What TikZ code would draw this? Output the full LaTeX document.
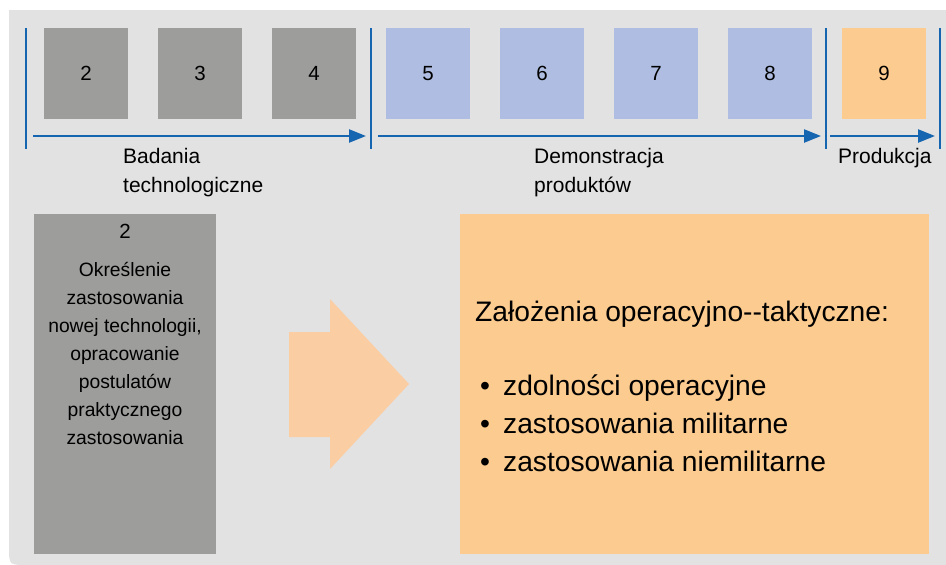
\documentclass[tikz,border=0pt]{standalone}
\usepackage{fontspec}
\setmainfont{Liberation Sans}
\usetikzlibrary{arrows.meta}

\definecolor{panelgray}{HTML}{E2E2E2}
\definecolor{stepgray}{HTML}{9D9D9C}
\definecolor{stepblue}{HTML}{AEBDE1}
\definecolor{steporange}{HTML}{FBCB8F}
\definecolor{arroworange}{HTML}{FBCDA3}
\definecolor{lineblue}{HTML}{1565B0}

\begin{document}
\begin{tikzpicture}[x=1pt, y=-1pt,
  stage/.style={inner sep=0pt, minimum width=84pt, minimum height=91pt,
    font=\fontsize{20.5}{22}\selectfont},
  divider/.style={lineblue, line width=2.6pt},
  phasearrow/.style={lineblue, line width=2.4pt,
    -{Triangle[length=17pt, width=13pt]}},
  phaselabel/.style={anchor=base west, inner sep=0pt, align=left,
    font=\fontsize{21}{29}\selectfont},
  bigbox/.style={inner sep=0pt, minimum height=340pt}
]
\useasboundingbox (0,0) rectangle (946,565);

% panel with one rounded corner
\fill[panelgray] (946,10) -- (9,10) -- (9,547) .. controls (9,565) .. (27,565)
  -- (946,565) -- cycle;

% stage squares
\node[stage, fill=stepgray]   (s2) at (86,73.5)  {2};
\node[stage, fill=stepgray]   (s3) at (200,73.5) {3};
\node[stage, fill=stepgray]   (s4) at (314,73.5) {4};
\node[stage, fill=stepblue]   (s5) at (428,73.5) {5};
\node[stage, fill=stepblue]   (s6) at (542,73.5) {6};
\node[stage, fill=stepblue]   (s7) at (656,73.5) {7};
\node[stage, fill=stepblue]   (s8) at (770,73.5) {8};
\node[stage, fill=steporange] (s9) at (884,73.5) {9};

% phase dividers
\draw[divider] (26,28) -- (26,149);
\draw[divider] (371,28) -- (371,149);
\draw[divider] (826,28) -- (826,149);
\draw[divider] (940,28) -- (940,149);

% phase arrows
\coordinate (a1s) at (33,136);  \coordinate (a1e) at (366,136);
\coordinate (a2s) at (378,136); \coordinate (a2e) at (821,136);
\coordinate (a3s) at (830,136); \coordinate (a3e) at (935,136);
\draw[phasearrow] (a1s) -- (a1e);
\draw[phasearrow] (a2s) -- (a2e);
\draw[phasearrow] (a3s) -- (a3e);

% phase names (base anchor sits on the last line)
\node[phaselabel] (l1) at (123,192) {Badania\\technologiczne};
\node[phaselabel] (l2) at (534,192) {Demonstracja\\produktów};
\node[phaselabel] (l3) at (838,163) {Produkcja};

% stage 2 detail
\node[bigbox, fill=stepgray, minimum width=182pt] (detail) at (125,384) {};
\node[anchor=base, inner sep=0pt, font=\fontsize{20.5}{22}\selectfont]
  (dnum) at (125,238) {2};
\node[anchor=base, inner sep=0pt, align=center,
  font=\fontsize{19.3}{28}\selectfont] (dtext) at (125,444)
  {Określenie\\zastosowania\\nowej technologii,\\opracowanie\\postulatów\\praktycznego\\zastosowania};

% block arrow
\fill[arroworange] (289,332) -- (330,332) -- (330,299) -- (409,384)
  -- (330,469) -- (330,437) -- (289,437) -- cycle;

% requirements box
\node[bigbox, fill=steporange, minimum width=469pt] (req) at (694.5,384) {};
\node[anchor=base west, inner sep=0pt, font=\fontsize{28.2}{38}\selectfont]
  (reqtitle) at (475,321) {Założenia operacyjno-{}-taktyczne:};
\node[anchor=base west, inner sep=0pt, align=left,
  font=\fontsize{28.2}{38}\selectfont] (reqlist) at (480,471)
  {\makebox[23pt][l]{•}zdolności operacyjne\\
   \makebox[23pt][l]{•}zastosowania militarne\\
   \makebox[23pt][l]{•}zastosowania niemilitarne};
\end{tikzpicture}
\end{document}
